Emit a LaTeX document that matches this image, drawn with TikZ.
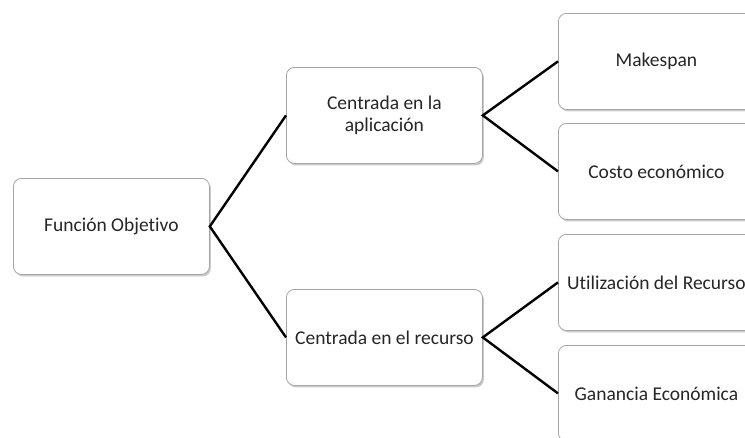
\documentclass[tikz,border=0pt]{standalone}
\usepackage{fontspec}
\setmainfont{Carlito}[Ligatures=NoCommon]
\usetikzlibrary{shadows}
\begin{document}
\begin{tikzpicture}[x=1pt,y=-1pt,
  box/.style={draw=black!35, line width=0.8pt, rounded corners=8pt, fill=white,
    minimum width=196pt, minimum height=96pt, inner sep=0pt, anchor=north west,
    drop shadow={shadow xshift=1.5pt, shadow yshift=-2pt, opacity=0.35, fill=black!60},
    font=\fontsize{19.5}{22.5}\selectfont, text=black!85, align=center},
  link/.style={line width=2.4pt, black}]
\useasboundingbox (0,0) rectangle (745,437);
\clip (0,0) rectangle (745,437);
\node[box] (fo) at (13,178) {Función Objetivo};
\node[box] (ca) at (286,67) {Centrada en la\\aplicación};
\node[box] (cr) at (286,289) {Centrada en el recurso};
\node[box] (mk) at (558,13) {Makespan};
\node[box] (ce) at (558,123) {Costo económico};
\node[box] (ur) at (558,234) {Utilización del Recurso};
\node[box] (ge) at (558,345) {Ganancia Económica};
\draw[link] (ca.west) -- (fo.east) -- (cr.west);
\draw[link] (mk.west) -- (ca.east) -- (ce.west);
\draw[link] (ur.west) -- (cr.east) -- (ge.west);
\end{tikzpicture}
\end{document}
